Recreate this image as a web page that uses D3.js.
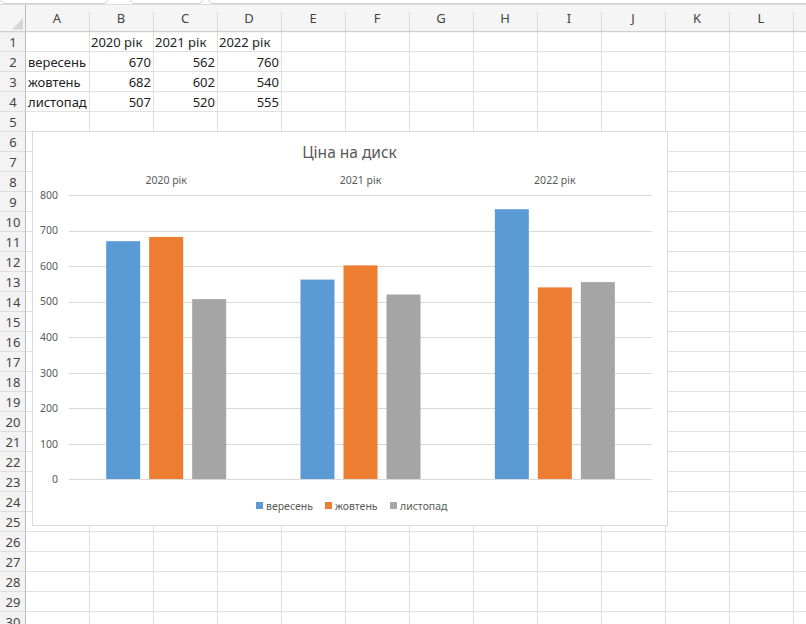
<!DOCTYPE html>
<html>
<head>
<meta charset="utf-8">
<script src="https://cdn.jsdelivr.net/npm/d3@7"></script>
<style>
  html, body { margin: 0; padding: 0; background: #fff; }
  svg { display: block; font-family: "Noto Sans", "Open Sans", sans-serif; }
</style>
</head>
<body>
<svg id="sheet" width="806" height="624"></svg>
<script>
// chart data
const years = ["2020 рік", "2021 рік", "2022 рік"];
const months = ["вересень", "жовтень", "листопад"];
const september = [670, 562, 760];
const october = [682, 602, 540];
const november = [507, 520, 555];
const yTicks = [0, 100, 200, 300, 400, 500, 600, 700, 800];
const chartTitle = "Ціна на диск";

// sheet labels
const colLetters = ["A", "B", "C", "D", "E", "F", "G", "H", "I", "J", "K", "L"];
const rowCount = 30;

const seriesValues = [september, october, november];
const colors = ["#5b9bd5", "#ed7d31", "#a5a5a5"];

const svg = d3.select("#sheet");
const W = 806, H = 624;
const rowHdrW = 25, colW = 64, hdrTop = 4.5, hdrBottom = 31.7, rowH = 20;

// ---- spreadsheet ----
const colX = d3.scaleLinear().domain([0, 1]).range([rowHdrW, rowHdrW + colW]);
const rowY = d3.scaleLinear().domain([0, 1]).range([hdrBottom, hdrBottom + rowH]);

// top chrome boxes
const chrome = svg.append("g");
[[0.5, 108], [130, 203], [208, 830]].forEach(([a, b]) => {
  chrome.append("rect")
    .attr("x", a).attr("y", -12).attr("width", b - a).attr("height", 15.5)
    .attr("rx", 5).attr("fill", "#fff").attr("stroke", "#cfcfcf");
});

// headers background
svg.append("rect").attr("x", 0).attr("y", hdrTop).attr("width", W).attr("height", hdrBottom - hdrTop)
  .attr("fill", "#f5f5f5");
svg.append("rect").attr("x", 0).attr("y", hdrBottom).attr("width", rowHdrW).attr("height", H)
  .attr("fill", "#f3f3f3");
svg.append("line").attr("x1", 0).attr("x2", W).attr("y1", hdrTop).attr("y2", hdrTop)
  .attr("stroke", "#dcdcdc");

// select-all triangle
svg.append("path").attr("d", "M12,29.5L23,29.5L23,18Z").attr("fill", "#d6d6d6");

// grid lines
const grid = svg.append("g").attr("stroke", "#e1e1e1").attr("shape-rendering", "crispEdges");
d3.range(1, colLetters.length + 2).forEach(i => {
  grid.append("line").attr("x1", colX(i) + 0.5).attr("x2", colX(i) + 0.5)
    .attr("y1", hdrBottom).attr("y2", H);
  svg.append("line").attr("x1", colX(i) + 0.5).attr("x2", colX(i) + 0.5)
    .attr("y1", hdrTop + 8).attr("y2", hdrBottom).attr("stroke", "#d9d9d9");
});
d3.range(1, rowCount + 1).forEach(i => {
  grid.append("line").attr("x1", rowHdrW).attr("x2", W)
    .attr("y1", rowY(i) - 0.2).attr("y2", rowY(i) - 0.2);
  svg.append("line").attr("x1", 0).attr("x2", rowHdrW)
    .attr("y1", rowY(i) - 0.2).attr("y2", rowY(i) - 0.2).attr("stroke", "#dedede");
});
svg.append("line").attr("x1", 0).attr("x2", W).attr("y1", hdrBottom).attr("y2", hdrBottom)
  .attr("stroke", "#c4c4c4");
svg.append("line").attr("x1", rowHdrW + 0.5).attr("x2", rowHdrW + 0.5).attr("y1", hdrTop).attr("y2", H)
  .attr("stroke", "#bcbcbc");

// column letters
svg.append("g").selectAll("text").data(colLetters).join("text")
  .attr("x", (d, i) => colX(i + 0.5)).attr("y", 23)
  .attr("text-anchor", "middle").attr("font-size", 13).attr("fill", "#444")
  .text(d => d);

// row numbers
svg.append("g").selectAll("text").data(d3.range(1, rowCount + 1)).join("text")
  .attr("x", 13).attr("y", d => rowY(d - 1) + 15)
  .attr("text-anchor", "middle").attr("font-size", 13).attr("fill", "#444")
  .text(d => d);

// cell contents
const cells = svg.append("g").attr("font-size", 13).attr("fill", "#222");
years.forEach((y, j) => {
  cells.append("text").attr("x", colX(j + 1) + 2).attr("y", rowY(0) + 15).text(y);
});
months.forEach((m, i) => {
  cells.append("text").attr("x", colX(0) + 3).attr("y", rowY(i + 1) + 15).text(m);
  seriesValues[i].forEach((v, j) => {
    cells.append("text").attr("x", colX(j + 2) - 2).attr("y", rowY(i + 1) + 15)
      .attr("text-anchor", "end").text(v);
  });
});

// ---- chart ----
const cx0 = 32, cy0 = 131, cx1 = 667, cy1 = 525;
const chart = svg.append("g");
chart.append("rect").attr("x", cx0 + 1).attr("y", cy0 + 1).attr("width", cx1 - cx0).attr("height", cy1 - cy0)
  .attr("fill", "#ececec");
chart.append("rect").attr("x", cx0 + 0.5).attr("y", cy0 + 0.5).attr("width", cx1 - cx0).attr("height", cy1 - cy0)
  .attr("fill", "#fff").attr("stroke", "#d9d9d9");

const plotL = 69, plotR = 652, plotT = 195, plotB = 479.3;
const x0 = d3.scaleBand().domain(years).range([plotL, plotR]).padding(0);
const x1 = d3.scaleBand().domain(months).range([0, x0.bandwidth()])
  .paddingInner(9 / 43).paddingOuter(0.864);
const y = d3.scaleLinear().domain([0, 800]).range([plotB, plotT]);

const txt = "#595959";

chart.append("text").attr("x", (cx0 + cx1) / 2).attr("y", 158)
  .attr("text-anchor", "middle").attr("font-size", 15.5).attr("fill", txt)
  .text(chartTitle);

// gridlines
chart.append("g").selectAll("line").data(yTicks).join("line")
  .attr("x1", plotL).attr("x2", plotR)
  .attr("y1", d => Math.round(y(d)) + 0.5).attr("y2", d => Math.round(y(d)) + 0.5)
  .attr("stroke", "#d9d9d9");

// y axis labels
const yAxis = d3.axisLeft(y).tickValues(yTicks).tickSize(0).tickPadding(0);
const ya = chart.append("g").attr("transform", "translate(58,0)").call(yAxis);
ya.select(".domain").remove();
ya.selectAll("text").attr("font-size", 10.5).attr("fill", txt)
  .attr("font-family", "Noto Sans, Open Sans, sans-serif");

// category labels at top
const xAxis = d3.axisTop(x0).tickSize(0).tickPadding(0);
const xa = chart.append("g").attr("transform", "translate(0,184)").call(xAxis);
xa.select(".domain").remove();
xa.selectAll("text").attr("font-size", 10.5).attr("fill", txt)
  .attr("font-family", "Noto Sans, Open Sans, sans-serif");

// bars
const groups = chart.append("g").selectAll("g").data(years).join("g")
  .attr("transform", d => `translate(${x0(d)},0)`);
groups.selectAll("rect")
  .data((d, j) => months.map((m, i) => ({ m, i, v: seriesValues[i][j] })))
  .join("rect")
  .attr("x", d => x1(d.m)).attr("width", x1.bandwidth())
  .attr("y", d => y(d.v)).attr("height", d => y(0) - y(d.v))
  .attr("fill", d => colors[d.i]);

// baseline
chart.append("line").attr("x1", plotL).attr("x2", plotR)
  .attr("y1", Math.round(y(0)) + 0.5).attr("y2", Math.round(y(0)) + 0.5)
  .attr("stroke", "#d9d9d9");

// legend
const legendX = [256, 325, 390];
const legend = chart.append("g").selectAll("g").data(months).join("g")
  .attr("transform", (d, i) => `translate(${legendX[i]},502)`);
legend.append("rect").attr("width", 7).attr("height", 7).attr("fill", (d, i) => colors[i]);
legend.append("text").attr("x", 10).attr("y", 7.5).attr("font-size", 10.5).attr("fill", txt)
  .text(d => d);
</script>
</body>
</html>
